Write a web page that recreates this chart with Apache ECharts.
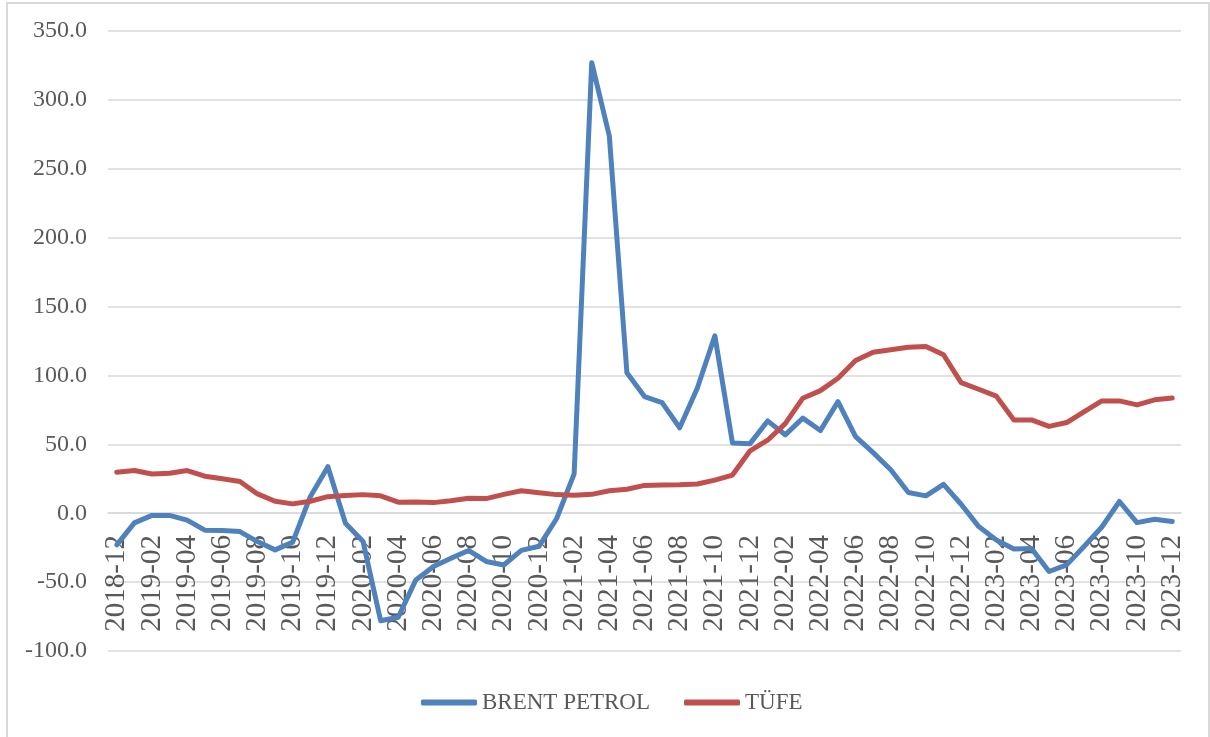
<!DOCTYPE html>
<html>
<head>
<meta charset="utf-8">
<script src="https://cdn.jsdelivr.net/npm/echarts@6/dist/echarts.min.js"></script>
<style>
    body { margin: 0; background: #fff; }
    #chart { width: 1210px; height: 737px; }
    .frame {
        position: absolute; left: 6px; top: 2px; width: 1200px; height: 760px;
        border: 2px solid #d9d9d9; pointer-events: none;
    }
</style>
</head>
<body>
<div id="chart"></div>
<div class="frame"></div>
<script>
// aylar (2018-12 .. 2023-12)
var months = [
    '2018-12',
    '2019-01','2019-02','2019-03','2019-04','2019-05','2019-06','2019-07','2019-08','2019-09','2019-10','2019-11','2019-12',
    '2020-01','2020-02','2020-03','2020-04','2020-05','2020-06','2020-07','2020-08','2020-09','2020-10','2020-11','2020-12',
    '2021-01','2021-02','2021-03','2021-04','2021-05','2021-06','2021-07','2021-08','2021-09','2021-10','2021-11','2021-12',
    '2022-01','2022-02','2022-03','2022-04','2022-05','2022-06','2022-07','2022-08','2022-09','2022-10','2022-11','2022-12',
    '2023-01','2023-02','2023-03','2023-04','2023-05','2023-06','2023-07','2023-08','2023-09','2023-10','2023-11','2023-12'
];

var brent = [
    -23, -7, -1.6, -1.6, -5, -12.3, -12.6, -13.3, -20.6, -26.6, -21, 12, 33.8,
    -7.3, -20.6, -78, -75.5, -48.4, -38.7, -32.7, -27, -35, -37.6, -27, -24,
    -4, 28.5, 327, 273.8, 102, 84.7, 80.3, 62, 90.7, 128.8, 51, 50.5,
    67, 56.9, 69, 60, 81, 55.6, 44, 31.5, 15, 12.6, 21, 6.5,
    -9.7, -19.4, -26, -25.6, -42.3, -37.5, -24, -10, 8.5, -6.8, -4.4, -6
];

var tufe = [
    29.8, 31, 28.5, 29, 31, 26.9, 25, 23, 14, 8.7, 6.8, 8.7, 12,
    12.8, 13.5, 12.6, 8, 8.2, 7.7, 9, 10.9, 10.6, 13.7, 16.3, 14.8,
    13.5, 13, 13.7, 16.3, 17.4, 20.2, 20.5, 20.7, 21.2, 24, 27.7, 45.3,
    53, 65, 83.5, 89, 98, 110.8, 116.9, 118.6, 120.5, 121, 115, 94.8,
    90, 85, 67.7, 67.7, 63, 65.8, 73.8, 81.5, 81.5, 78.6, 82.3, 83.7
];

var fontFamily = '"Liberation Serif", "Times New Roman", serif';
var textColor = '#595959';

var chart = echarts.init(document.getElementById('chart'));
var option = {
    animation: false,
    textStyle: { fontFamily: fontFamily },
    grid: { left: 108, right: 29, top: 31, bottom: 86, containLabel: false, outerBoundsMode: 'none' },
    legend: {
        bottom: 18,
        left: 416,
        itemWidth: 56,
        itemHeight: 6,
        itemGap: 34,
        icon: 'roundRect',
        textStyle: { fontFamily: fontFamily, fontSize: 23, color: textColor },
        data: ['BRENT PETROL', 'TÜFE']
    },
    xAxis: {
        type: 'category',
        data: months,
        boundaryGap: true,
        offset: -138, // eksen 0 çizgisinde
        axisLine: { onZero: false, lineStyle: { color: '#d9d9d9', width: 1.5 } },
        axisTick: { show: false },
        axisLabel: {
            interval: 1,
            rotate: 90,
            margin: 22,
            fontFamily: fontFamily,
            fontSize: 29,
            color: textColor
        }
    },
    yAxis: {
        type: 'value',
        min: -100,
        max: 350,
        interval: 50,
        axisLine: { show: false },
        axisTick: { show: false },
        splitLine: { lineStyle: { color: '#d9d9d9', width: 1.5 } },
        axisLabel: {
            margin: 21,
            fontFamily: fontFamily,
            fontSize: 24,
            color: textColor,
            formatter: function (v) { return v.toFixed(1); }
        }
    },
    series: [
        {
            name: 'BRENT PETROL',
            type: 'line',
            data: brent,
            symbol: 'none',
            itemStyle: { color: '#4f81bd' },
            lineStyle: { color: '#4f81bd', width: 5, cap: 'round', join: 'round' }
        },
        {
            name: 'TÜFE',
            type: 'line',
            data: tufe,
            symbol: 'none',
            itemStyle: { color: '#c0504d' },
            lineStyle: { color: '#c0504d', width: 5, cap: 'round', join: 'round' }
        }
    ]
};
chart.setOption(option);
</script>
</body>
</html>
